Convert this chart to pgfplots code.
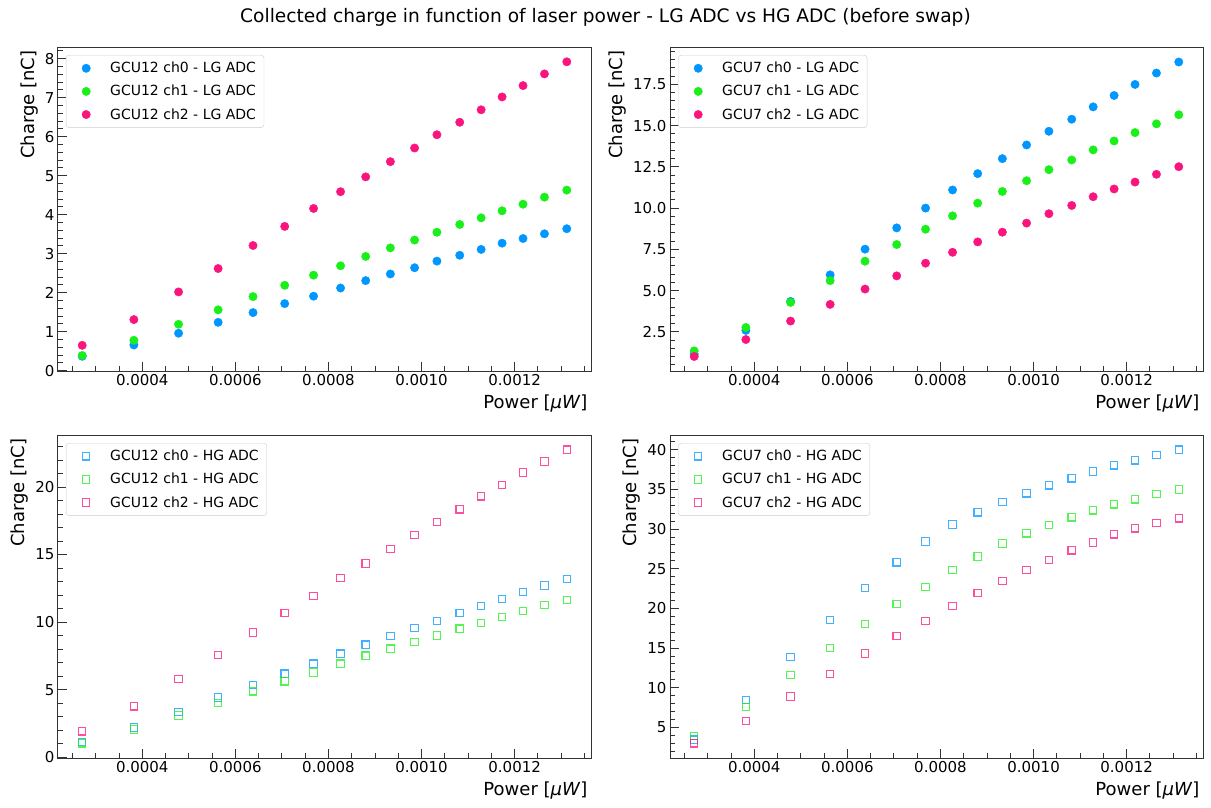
\documentclass[border=0pt]{standalone}
\usepackage{fontspec}
\setmainfont{DejaVu Sans}
\usepackage{pgfplots}
\usepackage{pgfplotstable}
\pgfplotsset{compat=1.18}
\definecolor{cblue}{RGB}{0,150,255}
\definecolor{cgreen}{RGB}{25,240,25}
\definecolor{cpink}{RGB}{250,20,125}

\pgfplotstableread{
x a b c
0.000271 0.37 0.39 0.65
0.000382 0.66 0.78 1.31
0.000478 0.96 1.19 2.02
0.000563 1.24 1.56 2.62
0.000638 1.49 1.90 3.21
0.000706 1.72 2.19 3.70
0.000768 1.91 2.45 4.16
0.000826 2.12 2.69 4.59
0.000880 2.31 2.93 4.97
0.000933 2.48 3.15 5.36
0.000985 2.64 3.35 5.71
0.001033 2.81 3.55 6.05
0.001082 2.96 3.75 6.37
0.001128 3.11 3.92 6.69
0.001173 3.27 4.10 7.02
0.001218 3.39 4.27 7.31
0.001264 3.51 4.45 7.61
0.001312 3.64 4.63 7.92
}\tabTL

\pgfplotstableread{
x a b c
0.000271 1.14 1.34 1.00
0.000382 2.58 2.76 2.03
0.000478 4.34 4.28 3.15
0.000563 5.95 5.60 4.16
0.000638 7.51 6.78 5.09
0.000706 8.80 7.79 5.89
0.000768 10.00 8.72 6.66
0.000826 11.10 9.53 7.32
0.000880 12.09 10.30 7.95
0.000933 13.00 11.01 8.54
0.000985 13.83 11.66 9.09
0.001033 14.66 12.33 9.66
0.001082 15.39 12.92 10.16
0.001128 16.14 13.53 10.69
0.001173 16.83 14.07 11.16
0.001218 17.50 14.58 11.58
0.001264 18.19 15.11 12.05
0.001312 18.86 15.66 12.51
}\tabTR

\pgfplotstableread{
x a b c
0.000271 1.11 1.03 1.92
0.000382 2.19 2.04 3.77
0.000478 3.35 3.08 5.79
0.000563 4.41 4.01 7.56
0.000638 5.34 4.88 9.24
0.000706 6.18 5.62 10.67
0.000768 6.92 6.28 11.95
0.000826 7.66 6.92 13.25
0.000880 8.33 7.51 14.33
0.000933 8.97 8.03 15.42
0.000985 9.56 8.52 16.43
0.001033 10.10 9.01 17.41
0.001082 10.67 9.51 18.35
0.001128 11.21 9.95 19.31
0.001173 11.72 10.39 20.15
0.001218 12.22 10.84 21.08
0.001264 12.71 11.26 21.90
0.001312 13.18 11.65 22.76
}\tabBL

\pgfplotstableread{
x a b c
0.000271 3.45 3.91 2.99
0.000382 8.44 7.60 5.80
0.000478 13.90 11.59 8.90
0.000563 18.51 15.00 11.71
0.000638 22.54 18.01 14.32
0.000706 25.81 20.53 16.50
0.000768 28.42 22.71 18.39
0.000826 30.56 24.81 20.32
0.000880 32.11 26.53 21.91
0.000933 33.41 28.16 23.46
0.000985 34.50 29.46 24.85
0.001033 35.51 30.51 26.11
0.001082 36.39 31.48 27.32
0.001128 37.27 32.36 28.29
0.001173 38.03 33.12 29.34
0.001218 38.66 33.75 30.09
0.001264 39.33 34.42 30.77
0.001312 40.00 35.00 31.35
}\tabBR

\pgfplotsset{
  mylegimg/.style={legend image code/.code={\path[draw=none,fill=none] (0pt,0pt) -- (36pt,0pt); \draw[##1] plot coordinates {(14pt,0pt)};}},
  LGm/.style={only marks, mark=*, mark size=4.2pt, color=#1, mark options={solid, draw=none, fill=#1}, mylegimg},
  HGm/.style={only marks, mark=square, mark size=3.7pt, color=#1, mark options={solid, line width=1.1pt, draw opacity=0.75}, mylegimg},
  myaxis/.style={
    scale only axis, width=533pt, height=324pt,
    xmin=0.000219, xmax=0.001364,
    xtick={0.0004,0.0006,0.0008,0.0010,0.0012},
    minor xtick={0.00025,0.0003,0.00035,0.00045,0.0005,0.00055,0.00065,0.0007,0.00075,0.00085,0.0009,0.00095,0.00105,0.0011,0.00115,0.00125,0.0013,0.00135},
    scaled x ticks=false, scaled y ticks=false,
    x tick label style={/pgf/number format/.cd, fixed, fixed zerofill, precision=4},
    /pgf/number format/assume math mode=true,
    tick label style={font=\fontsize{15}{15}\selectfont, text=black},
    tick align=inside, tickpos=left,
    major tick length=9pt, minor tick length=5pt,
    every tick/.style={black!80, line width=0.9pt},
    axis line style={black!80, line width=1pt},
    xlabel={Power [\textit{μW}]},
    ylabel={Charge [nC]},
    label style={font=\fontsize{18}{18}\selectfont},
    xlabel style={at={(ticklabel cs:1)}, anchor=north east, yshift=-2pt},
    ylabel style={at={(ticklabel cs:1)}, anchor=south east},
    legend style={at={(0,1)}, anchor=north west, xshift=8pt, yshift=-8pt, draw=black!20, fill=white, rounded corners=3pt, font=\fontsize{14}{14}\selectfont, row sep=7pt, inner xsep=6pt, inner ysep=5pt},
    legend cell align=left,
  },
}

\begin{document}
\begin{tikzpicture}
\path[use as bounding box] (0pt,0pt) rectangle (1211pt,-807pt);
\node[font=\fontsize{18.6}{18.6}\selectfont] at (605.5pt,-17pt) {Collected charge in function of laser power - LG ADC vs HG ADC (before swap)};

\begin{axis}[myaxis, at={(58pt,-371pt)}, anchor=south west,
  ymin=-0.008, ymax=8.30, ytick={0,1,...,8}, minor ytick={0,0.2,...,8.2}]
\addplot[LGm=cblue] table[x=x,y=a] {\tabTL}; \addlegendentry{GCU12 ch0 - LG ADC}
\addplot[LGm=cgreen] table[x=x,y=b] {\tabTL}; \addlegendentry{GCU12 ch1 - LG ADC}
\addplot[LGm=cpink] table[x=x,y=c] {\tabTL}; \addlegendentry{GCU12 ch2 - LG ADC}
\end{axis}

\begin{axis}[myaxis, at={(670pt,-371pt)}, anchor=south west,
  ymin=0.12, ymax=19.77, ytick={2.5,5,...,17.5}, minor ytick={0.5,1,...,19.5},
  y tick label style={/pgf/number format/.cd, fixed, fixed zerofill, precision=1}]
\addplot[LGm=cblue] table[x=x,y=a] {\tabTR}; \addlegendentry{GCU7 ch0 - LG ADC}
\addplot[LGm=cgreen] table[x=x,y=b] {\tabTR}; \addlegendentry{GCU7 ch1 - LG ADC}
\addplot[LGm=cpink] table[x=x,y=c] {\tabTR}; \addlegendentry{GCU7 ch2 - LG ADC}
\end{axis}

\begin{axis}[myaxis, at={(58pt,-758pt)}, anchor=south west, height=323pt,
  ymin=-0.06, ymax=23.85, ytick={0,5,...,20}, minor ytick={0,1,...,23}]
\addplot[HGm=cblue] table[x=x,y=a] {\tabBL}; \addlegendentry{GCU12 ch0 - HG ADC}
\addplot[HGm=cgreen] table[x=x,y=b] {\tabBL}; \addlegendentry{GCU12 ch1 - HG ADC}
\addplot[HGm=cpink] table[x=x,y=c] {\tabBL}; \addlegendentry{GCU12 ch2 - HG ADC}
\end{axis}

\begin{axis}[myaxis, at={(670pt,-758pt)}, anchor=south west, height=323pt,
  ymin=1.14, ymax=41.85, ytick={5,10,...,40}, minor ytick={2,3,...,41}]
\addplot[HGm=cblue] table[x=x,y=a] {\tabBR}; \addlegendentry{GCU7 ch0 - HG ADC}
\addplot[HGm=cgreen] table[x=x,y=b] {\tabBR}; \addlegendentry{GCU7 ch1 - HG ADC}
\addplot[HGm=cpink] table[x=x,y=c] {\tabBR}; \addlegendentry{GCU7 ch2 - HG ADC}
\end{axis}
\end{tikzpicture}
\end{document}
